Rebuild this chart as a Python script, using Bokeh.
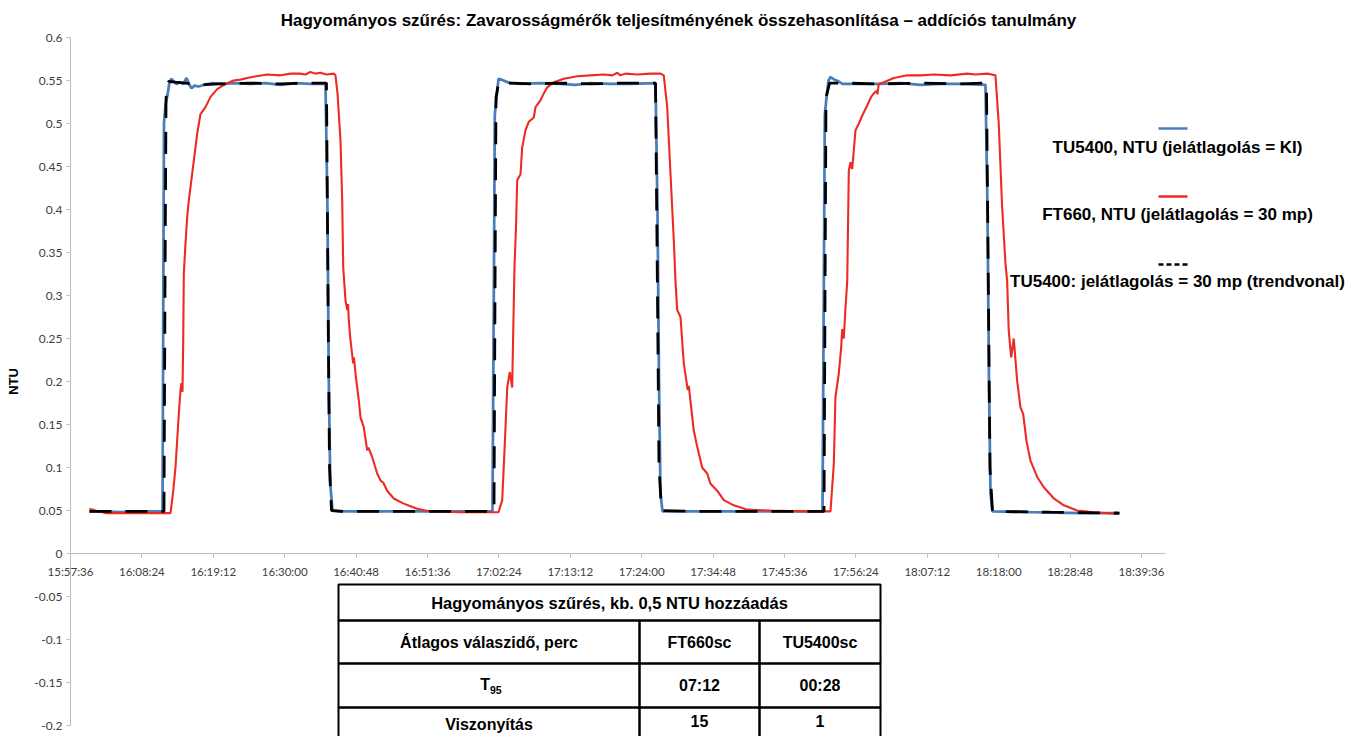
import numpy as np
import pandas as pd
from bokeh.plotting import figure
from bokeh.models import Range1d, FixedTicker, DatetimeTickFormatter, Label, BoxAnnotation, Arrow
from bokeh.embed import file_html
from bokeh.resources import INLINE

# ---------------- data ----------------
title_text = "Hagyományos szűrés: Zavarosságmérők teljesítményének összehasonlítása – addíciós tanulmány"
y_axis_title = "NTU"
start_clock = "15:57:36"

x_tick_labels = ["15:57:36", "16:08:24", "16:19:12", "16:30:00", "16:40:48", "16:51:36",
                 "17:02:24", "17:13:12", "17:24:00", "17:34:48", "17:45:36", "17:56:24",
                 "18:07:12", "18:18:00", "18:28:48", "18:39:36"]
y_ticks = [-0.2, -0.15, -0.1, -0.05, 0, 0.05, 0.1, 0.15, 0.2, 0.25, 0.3, 0.35, 0.4, 0.45, 0.5, 0.55, 0.6]
y_tick_labels = ["-0.2", "-0.15", "-0.1", "-0.05", "0", "0.05", "0.1", "0.15", "0.2", "0.25",
                 "0.3", "0.35", "0.4", "0.45", "0.5", "0.55", "0.6"]

series_names = ["TU5400, NTU (jelátlagolás = KI)",
                "FT660, NTU (jelátlagolás = 30 mp)",
                "TU5400: jelátlagolás = 30 mp (trendvonal)"]

# minutes elapsed after 15:57:36
tu_min = [2.87, 4.54, 7.56, 10.59, 13.92,
          14.04, 14.14, 14.37, 14.67, 14.97, 15.28, 15.58, 16.03, 16.49, 17.09, 17.55, 17.85, 18.30, 18.76,
          19.36, 20.27, 21.48, 22.99, 24.96, 27.23, 29.50, 31.76, 34.03, 36.30, 38.57,
          38.87, 39.07, 39.30, 39.63, 41.60, 46.89, 52.94, 58.99, 63.83,
          64.03, 64.18, 64.44, 64.74, 65.19, 65.80, 66.55, 68.07, 71.09, 74.12, 76.39, 78.66, 81.68, 84.71, 88.49,
          88.79, 89.02, 89.24, 89.55, 95.29, 104.37, 113.75,
          113.94, 114.10, 114.35, 114.66, 114.96, 115.56, 116.17, 116.77, 119.50, 122.52, 125.55, 128.57, 131.60,
          134.62, 138.40,
          138.71, 138.93, 139.16, 139.46, 145.21, 152.77, 158.67]
tu_ntu = [0.049, 0.049, 0.048, 0.049, 0.049,
          0.30, 0.50, 0.522, 0.533, 0.548, 0.552, 0.549, 0.546, 0.548, 0.546, 0.553, 0.547, 0.541, 0.544,
          0.543, 0.545, 0.547, 0.546, 0.547, 0.546, 0.547, 0.545, 0.547, 0.546, 0.546,
          0.40, 0.20, 0.08, 0.050, 0.049, 0.049, 0.049, 0.049, 0.049,
          0.30, 0.51, 0.53, 0.552, 0.551, 0.549, 0.547, 0.546, 0.547, 0.546, 0.545, 0.547, 0.546, 0.546, 0.547,
          0.40, 0.20, 0.07, 0.049, 0.049, 0.049, 0.049,
          0.30, 0.51, 0.53, 0.550, 0.554, 0.551, 0.549, 0.546, 0.546, 0.546, 0.547, 0.545, 0.546,
          0.546, 0.545,
          0.40, 0.20, 0.07, 0.049, 0.048, 0.047, 0.047]

ft_min = [2.87, 3.78, 5.29, 10.59, 15.13,
          15.50, 15.88, 16.38, 16.64, 16.79, 16.94, 17.05, 17.14, 17.39, 17.65, 17.89,
          18.41, 19.16, 19.66, 20.42, 21.18, 22.19, 23.45, 24.66, 25.71, 26.73,
          28.13, 29.75, 31.76, 33.28, 34.79, 35.55, 36.30, 37.06, 37.82, 38.72,
          39.83, 40.08, 40.39, 40.84, 41.10, 41.25, 41.60, 41.86, 41.98, 42.10,
          42.35, 42.76, 42.88, 43.11, 43.61, 43.87, 44.36, 44.88, 45.08, 45.64,
          46.39, 46.89, 47.34, 47.90, 48.90, 49.61, 50.42, 51.43, 52.44, 53.70,
          54.95, 58.99, 64.74,
          65.30, 65.65, 66.06, 66.45, 66.81, 66.96, 67.16, 67.39, 67.57, 68.07,
          68.32, 68.82, 69.32, 70.08, 70.34, 71.09, 71.59, 72.11, 73.10, 74.62,
          76.64, 78.66, 80.67, 81.98, 82.70, 83.19, 83.95, 85.72, 87.73, 89.24,
          89.74, 90.26, 90.76, 91.26, 91.51, 91.77, 91.97, 92.27, 92.77, 93.37,
          93.53, 93.68, 94.28, 94.80, 95.55, 96.31, 96.81, 97.82, 98.82, 100.33,
          102.36, 105.88, 110.42, 114.96,
          115.46, 115.71, 116.21, 116.58, 116.73, 116.97, 117.23, 117.49, 117.73, 117.98,
          118.24, 118.74, 119.24, 119.75, 120.51, 121.11, 121.51, 121.92, 122.07, 122.26,
          123.02, 124.53, 126.56, 128.57, 130.59, 133.11, 135.64, 136.89, 138.66, 139.91,
          140.41, 140.92, 141.43, 141.68, 141.92, 142.29, 142.68, 143.19, 143.70, 144.11,
          144.60, 145.21, 146.22, 147.23, 148.74, 150.25, 152.27, 154.79, 158.57]
ft_ntu = [0.052, 0.050, 0.047, 0.047, 0.047,
          0.070, 0.100, 0.162, 0.190, 0.198, 0.188, 0.248, 0.325, 0.360, 0.391, 0.410,
          0.442, 0.488, 0.511, 0.519, 0.531, 0.540, 0.546, 0.550, 0.551, 0.553,
          0.555, 0.557, 0.556, 0.558, 0.558, 0.557, 0.560, 0.558, 0.559, 0.557,
          0.558, 0.556, 0.535, 0.480, 0.410, 0.333, 0.294, 0.283, 0.290, 0.271,
          0.248, 0.221, 0.228, 0.209, 0.178, 0.158, 0.147, 0.120, 0.123, 0.112,
          0.093, 0.085, 0.082, 0.073, 0.064, 0.061, 0.058, 0.055, 0.052, 0.050,
          0.049, 0.048, 0.048,
          0.062, 0.120, 0.193, 0.211, 0.193, 0.255, 0.333, 0.380, 0.434, 0.441,
          0.472, 0.492, 0.502, 0.507, 0.519, 0.527, 0.535, 0.542, 0.548, 0.552,
          0.555, 0.556, 0.557, 0.556, 0.559, 0.556, 0.558, 0.557, 0.558, 0.558,
          0.556, 0.519, 0.441, 0.364, 0.317, 0.283, 0.280, 0.275, 0.221, 0.190,
          0.195, 0.184, 0.143, 0.124, 0.100, 0.093, 0.081, 0.073, 0.062, 0.056,
          0.051, 0.050, 0.049, 0.049,
          0.104, 0.182, 0.209, 0.240, 0.261, 0.250, 0.286, 0.317, 0.445, 0.455,
          0.447, 0.492, 0.500, 0.509, 0.521, 0.531, 0.535, 0.538, 0.534, 0.546,
          0.548, 0.553, 0.556, 0.556, 0.557, 0.556, 0.558, 0.557, 0.558, 0.556,
          0.500, 0.403, 0.337, 0.317, 0.259, 0.228, 0.250, 0.201, 0.170, 0.162,
          0.131, 0.108, 0.089, 0.077, 0.064, 0.056, 0.050, 0.048, 0.046]

trend_min = [2.87, 14.14, 14.29, 14.45, 14.82, 15.88, 17.39, 19.66, 22.69, 27.23, 31.76, 36.30, 38.72,
             38.95, 39.18, 39.48, 40.84, 49.92, 64.06,
             64.21, 64.36, 64.74, 67.01, 69.58, 74.12, 78.66, 83.19, 88.49,
             88.79, 89.02, 89.40, 95.29, 113.98,
             114.13, 114.28, 114.81, 117.23, 122.52, 128.57, 134.62, 138.55,
             138.85, 139.08, 139.46, 148.23, 158.67]
trend_ntu = [0.049, 0.049, 0.30, 0.53, 0.549, 0.548, 0.547, 0.545, 0.546, 0.547, 0.546, 0.547, 0.547,
             0.30, 0.10, 0.050, 0.049, 0.049, 0.049,
             0.30, 0.53, 0.547, 0.547, 0.546, 0.547, 0.546, 0.547, 0.547,
             0.30, 0.10, 0.050, 0.049, 0.049,
             0.30, 0.53, 0.547, 0.547, 0.546, 0.547, 0.546, 0.547,
             0.30, 0.10, 0.049, 0.048, 0.047]

table_title = "Hagyományos szűrés, kb. 0,5 NTU hozzáadás"
table_header = ["Átlagos válaszidő, perc", "FT660sc", "TU5400sc"]
table_row_t95 = [("T", "95"), "07:12", "00:28"]
table_row_ratio = ["Viszonyítás", "15", "1"]

# ---------------- helpers ----------------
DAY = "2020-01-01 "
base = pd.Timestamp(DAY + start_clock)


def to_dt(minutes):
    return (base + pd.to_timedelta(np.asarray(minutes, dtype=float), unit="min")).to_numpy()


def ms(ts):
    return ts.value / 1e6


x_ticks_ms = [ms(pd.Timestamp(DAY + s)) for s in x_tick_labels]

# layout (canvas pixels); the frame covers the whole canvas, axes sit at fixed positions
W, H = 1354, 736
AXIS_X_PX = 70                    # pixel column of the y axis (15:57:36)
PX_PER_MIN = 6.611                # horizontal scale
PX_PER_UNIT = 860.0               # vertical scale (NTU)
Y0_PX = 553                       # pixel row of NTU = 0


def sx(px):
    return px


def sy(py):
    return H - py


x_start = ms(base - pd.Timedelta(minutes=AXIS_X_PX / PX_PER_MIN))
x_end = ms(base + pd.Timedelta(minutes=(W - AXIS_X_PX) / PX_PER_MIN))
y_top = Y0_PX / PX_PER_UNIT
y_bot = -(H - Y0_PX) / PX_PER_UNIT

p = figure(width=W, height=H, x_axis_type="datetime", output_backend="svg", toolbar_location=None,
           x_range=Range1d(x_start, x_end), y_range=Range1d(y_bot, y_top),
           min_border_left=0, min_border_right=0, min_border_top=0, min_border_bottom=0)
p.outline_line_color = None
p.grid.visible = False
p.background_fill_color = "white"
p.border_fill_color = "white"

AX_COL = "#bfbfbf"
LBL_COL = "#404040"
TICK_FONT = "Lato"

# x axis crossing at NTU = 0
xa = p.xaxis[0]
xa.fixed_location = 0
xa.ticker = FixedTicker(ticks=x_ticks_ms)
fmt = "%H:%M:%S"
xa.formatter = DatetimeTickFormatter(milliseconds=fmt, seconds=fmt, minsec=fmt, minutes=fmt,
                                     hourmin=fmt, hours=fmt, days=fmt, months=fmt, years=fmt)
xa.major_label_overrides = {int(round(t)): l for t, l in zip(x_ticks_ms, x_tick_labels)}
xa.bounds = (ms(base), ms(base + pd.Timedelta(minutes=(1165 - AXIS_X_PX) / PX_PER_MIN)))
xa.axis_line_color = AX_COL
xa.major_tick_line_color = AX_COL
xa.major_tick_out = 4
xa.major_tick_in = 0
xa.minor_tick_line_color = None
xa.major_label_standoff = 7
xa.major_label_text_font = TICK_FONT
xa.major_label_text_font_size = "11.5px"
xa.major_label_text_color = LBL_COL

# y axis crossing at 15:57:36
ya = p.yaxis[0]
ya.fixed_location = ms(base)
ya.ticker = FixedTicker(ticks=y_ticks)
ya.major_label_overrides = dict(zip(y_ticks, y_tick_labels))
ya.bounds = (y_ticks[0], y_ticks[-1])
ya.axis_line_color = AX_COL
ya.major_tick_line_color = AX_COL
ya.major_tick_out = 4
ya.major_tick_in = 0
ya.minor_tick_line_color = None
ya.major_label_standoff = 4
ya.major_label_text_font = TICK_FONT
ya.major_label_text_font_size = "12px"
ya.major_label_text_color = LBL_COL
ya.axis_label = y_axis_title
ya.axis_label_text_font = "Liberation Sans"
ya.axis_label_text_font_style = "bold"
ya.axis_label_text_font_size = "13px"
ya.axis_label_text_color = "black"
ya.axis_label_standoff = 10

BLUE, RED = "#4a7ebb", "#ee2a24"
p.line(to_dt(tu_min), tu_ntu, line_color=BLUE, line_width=2.75)
p.line(to_dt(ft_min), ft_ntu, line_color=RED, line_width=2.1)
p.line(to_dt(trend_min), trend_ntu, line_color="black", line_width=2.8, line_dash="22 14")

BOLD = "Liberation Sans"

# title
p.add_layout(Label(x=sx(678), y=sy(20), x_units="screen", y_units="screen", text=title_text,
                   text_align="center", text_baseline="middle", text_font=BOLD,
                   text_font_style="bold", text_font_size="17px", text_color="black"))

# legend: short line sample centred above each label
leg_styles = [(BLUE, 2.5, "solid"), (RED, 2.5, "solid"), ("black", 2.5, "5 3")]
leg_line_py = [128, 196, 264]
leg_text_py = [147, 214, 281]
for name, (col, lw, dash), lpy, tpy in zip(series_names, leg_styles, leg_line_py, leg_text_py):
    p.add_layout(Arrow(start=None, end=None, x_start=sx(1158), y_start=sy(lpy), x_end=sx(1187), y_end=sy(lpy),
                       start_units="screen", end_units="screen", line_color=col, line_width=lw,
                       line_dash=dash))
    p.add_layout(Label(x=sx(1177), y=sy(tpy), x_units="screen", y_units="screen", text=name,
                       text_align="center", text_baseline="middle", text_font=BOLD,
                       text_font_style="bold", text_font_size="17px", text_color="black"))

# table
col_px = [338, 639, 759, 880]
row_px = [584, 620, 663, 707, 745]
TBL = dict(fill_alpha=0, line_color="black", line_alpha=1.0, line_width=2, left_units="screen",
           right_units="screen", top_units="screen", bottom_units="screen")
p.add_layout(BoxAnnotation(left=sx(col_px[0]), right=sx(col_px[3]), top=sy(row_px[0]), bottom=sy(row_px[1]), **TBL))
for r in range(1, 4):
    for c in range(3):
        p.add_layout(BoxAnnotation(left=sx(col_px[c]), right=sx(col_px[c + 1]),
                                   top=sy(row_px[r]), bottom=sy(row_px[r + 1]), **TBL))


def cell_text(txt, cx, cy, size="16px", align="center", baseline="middle"):
    p.add_layout(Label(x=sx(cx), y=sy(cy), x_units="screen", y_units="screen", text=txt,
                       text_align=align, text_baseline=baseline, text_font=BOLD,
                       text_font_style="bold", text_font_size=size, text_color="black"))


ccx = [(col_px[i] + col_px[i + 1]) / 2 for i in range(3)]
rcy = [(row_px[i] + row_px[i + 1]) / 2 for i in range(4)]
cell_text(table_title, (col_px[0] + col_px[3]) / 2, rcy[0], size="16.5px")
for i, t in enumerate(table_header):
    cell_text(t, ccx[i], rcy[1])
# T95 with subscript
cell_text(table_row_t95[0][0], ccx[0] + 1, rcy[2] - 1, align="right")
cell_text(table_row_t95[0][1], ccx[0] + 1, rcy[2] + 4, size="10.5px", align="left")
for i in (1, 2):
    cell_text(table_row_t95[i], ccx[i], rcy[2])
cell_text(table_row_ratio[0], ccx[0], 724)
for i in (1, 2):
    cell_text(table_row_ratio[i], ccx[i], 720)

open("out.html", "w").write(file_html(p, INLINE))
